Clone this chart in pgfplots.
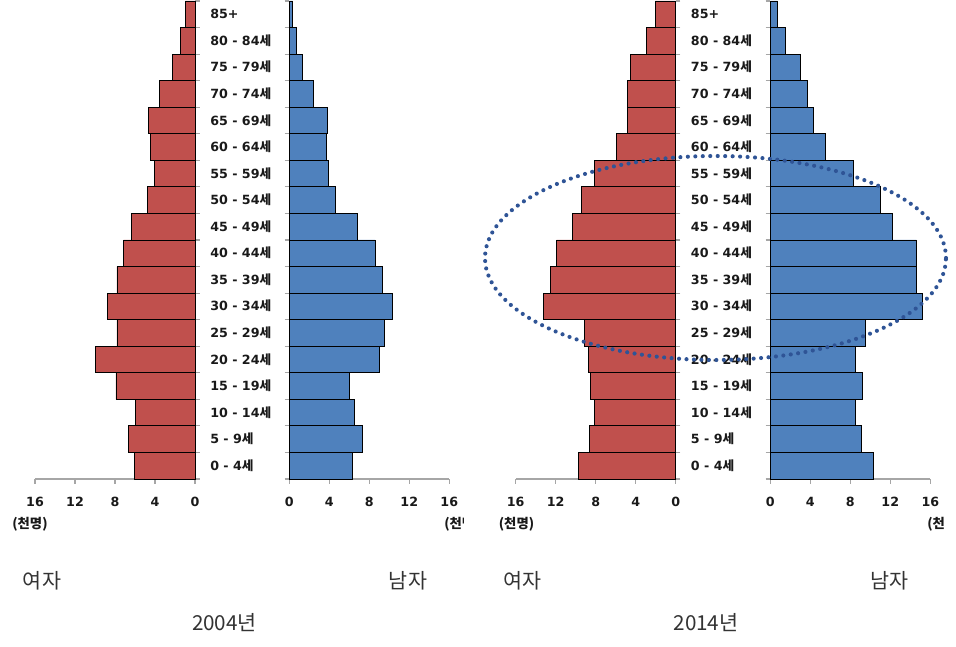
\documentclass[border=0pt]{standalone}
\usepackage{pgfplots}
\pgfplotsset{compat=1.18}
\usepackage{pgfplotstable}
\usepackage{fontspec}
\setmainfont{DejaVu Sans}
\newfontfamily\kr{Noto Sans CJK KR}
\definecolor{fem}{HTML}{C0504D}
\definecolor{mal}{HTML}{4F81BD}
\definecolor{ellc}{HTML}{2F5496}
\definecolor{axg}{HTML}{A6A6A6}
\definecolor{txt}{HTML}{333333}

\pgfplotstableread{
g f04 m04 f14 m14
0 6.07 6.30 9.73 10.27
1 6.67 7.30 8.63 9.10
2 5.93 6.50 8.10 8.53
3 7.90 5.97 8.53 9.20
4 9.93 8.97 8.73 8.53
5 7.80 9.53 9.17 9.53
6 8.77 10.30 13.20 15.17
7 7.80 9.30 12.53 14.60
8 7.13 8.57 11.90 14.60
9 6.37 6.83 10.37 12.23
10 4.77 4.63 9.40 11.00
11 4.07 3.90 8.10 8.30
12 4.43 3.67 5.93 5.50
13 4.63 3.80 4.83 4.30
14 3.53 2.37 4.83 3.73
15 2.27 1.30 4.50 3.00
16 1.50 0.70 2.90 1.47
17 0.97 0.33 2.04 0.70
}\pyramid

\pgfplotsset{
  pyr/.style={
    scale only axis, width=120pt, height=358.5pt,
    xmin=0, xmax=16, ymin=-0.5, ymax=17.5,
    xbar, bar width=1,
    xtick={0,4,8,12,16},
    ytick={-0.5,0.5,...,17.5}, yticklabels={},
    tick align=outside, major tick length=3.5pt,
    axis line style={-, axg, line width=0.8pt},
    tick style={axg, line width=0.8pt},
    axis x line*=bottom, xtick pos=bottom,
    /pgf/number format/assume math mode=true,
    xticklabel style={font=\bfseries\fontsize{9.5}{10}\selectfont, text=black!90, yshift=-6.5pt},
    every axis plot/.append style={draw=black, line width=0.6pt},
    clip=false,
  },
  female/.style={pyr, x dir=reverse, axis y line*=right, ytick pos=right},
  male/.style={pyr, axis y line*=left, ytick pos=left},
}

\begin{document}
\begin{tikzpicture}[x=0.75pt,y=0.75pt]
\path[use as bounding box] (0,0) rectangle (956,646);
\coordinate (F1) at (35,167);
\coordinate (M1) at (289.3,167);
\coordinate (F2) at (515.7,167);
\coordinate (M2) at (770.3,167);

% 2004
\begin{axis}[female, at={(F1)}, anchor=south west]
\addplot[fill=fem] table[x=f04,y=g]{\pyramid};
\end{axis}
\begin{axis}[male, at={(M1)}, anchor=south west]
\addplot[fill=mal] table[x=m04,y=g]{\pyramid};
\end{axis}

% 2014
\begin{axis}[female, at={(F2)}, anchor=south west]
\addplot[fill=fem] table[x=f14,y=g]{\pyramid};
\end{axis}
\begin{axis}[male, at={(M2)}, anchor=south west]
\addplot[fill=mal] table[x=m14,y=g]{\pyramid};
\end{axis}

% age labels
\tikzset{agel/.style={anchor=west, inner sep=0pt, text height=6.9pt, text depth=0pt,
  font=\bfseries\fontsize{9.5}{10}\selectfont, text=black!90}}
\foreach \i/\t in {0/0 - 4,1/5 - 9,2/10 - 14,3/15 - 19,4/20 - 24,5/25 - 29,6/30 - 34,7/35 - 39,8/40 - 44,9/45 - 49,10/50 - 54,11/55 - 59,12/60 - 64,13/65 - 69,14/70 - 74,15/75 - 79,16/80 - 84}{
  \node[agel] at (210,{167+(\i+0.5)*26.5556}) {\t{\kr 세}};
  \node[agel] at (690.7,{167+(\i+0.5)*26.5556}) {\t{\kr 세}};
}
\node[agel] at (210,{167+17.5*26.5556}) {85+};
\node[agel] at (690.7,{167+17.5*26.5556}) {85+};

% unit labels
\tikzset{unitl/.style={inner sep=0pt, font=\kr\bfseries\fontsize{10}{11}\selectfont, text=black!90}}
\node[unitl] at (30,122) {(천명)};
\node[unitl] at (516.5,122) {(천명)};
\begin{scope}
\clip (430,100) rectangle (463,140);
\node[unitl, anchor=west] at (444,122) {(천명)};
\end{scope}
\begin{scope}
\clip (910,100) rectangle (944,140);
\node[unitl, anchor=west] at (927,122) {(천명)};
\end{scope}

% bottom labels
\tikzset{bigl/.style={inner sep=0pt, font=\kr\fontsize{15.5}{18}\selectfont, text=txt}}
\node[bigl] at (42,65) {여자};
\node[bigl] at (408,65) {남자};
\node[bigl] at (224.5,23) {2004년};
\node[bigl] at (522.5,65) {여자};
\node[bigl] at (889.5,65) {남자};
\node[bigl] at (706,23) {2014년};

% ellipse
\draw[ellc, line width=3.1pt, line cap=round, dash pattern=on 0pt off 5.6pt]
  (715.5,388) ellipse [x radius=230.5, y radius=102];
\end{tikzpicture}
\end{document}
